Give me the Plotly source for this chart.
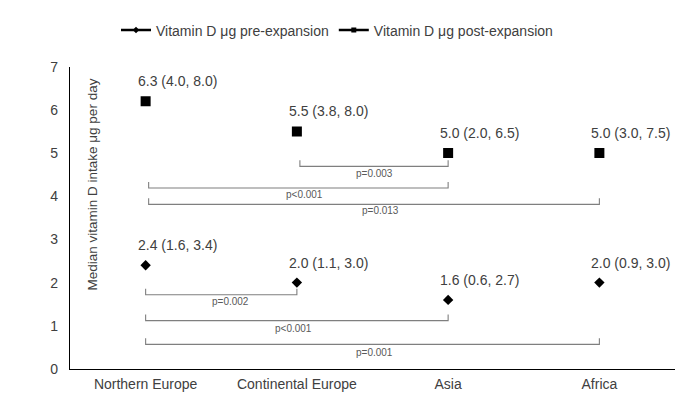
import plotly.graph_objects as go

categories = ["Northern Europe", "Continental Europe", "Asia", "Africa"]
pre_values = [2.4, 2.0, 1.6, 2.0]
post_values = [6.2, 5.5, 5.0, 5.0]
pre_labels = ["2.4 (1.6, 3.4)", "2.0 (1.1, 3.0)", "1.6 (0.6, 2.7)", "2.0 (0.9, 3.0)"]
post_labels = ["6.3 (4.0, 8.0)", "5.5 (3.8, 8.0)", "5.0 (2.0, 6.5)", "5.0 (3.0, 7.5)"]

# significance brackets: from category index, to category index, height, p text, label pos
br_from = [1, 0, 0, 0, 0, 0]
br_to = [2, 2, 3, 1, 2, 3]
br_y = [4.69, 4.19, 3.81, 1.72, 1.12, 0.57]
br_p = ["p=0.003", "p<0.001", "p=0.013", "p=0.002", "p<0.001", "p=0.001"]
br_label_x = [1.51, 1.05, 1.55, 0.56, 0.98, 1.51]
br_label_y = [4.52, 4.05, 3.66, 1.57, 0.94, 0.39]

FONT = "Liberation Sans, Arial, sans-serif"
TXT = "#404040"
idx = list(range(len(categories)))

fig = go.Figure()
# data markers
fig.add_trace(go.Scatter(
    x=idx, y=pre_values, mode="markers", showlegend=False,
    marker=dict(symbol="diamond", size=8, color="black")))
fig.add_trace(go.Scatter(
    x=idx, y=post_values, mode="markers", showlegend=False,
    marker=dict(symbol="square", size=10, color="black")))
# legend entries (line + marker symbol, as in the reference)
fig.add_trace(go.Scatter(
    x=[None], y=[None], mode="lines+markers", name="Vitamin D μg pre-expansion",
    marker=dict(symbol="diamond", size=5, color="black"),
    line=dict(color="black", width=2.5)))
fig.add_trace(go.Scatter(
    x=[None], y=[None], mode="lines+markers", name="Vitamin D μg post-expansion",
    marker=dict(symbol="square", size=5, color="black"),
    line=dict(color="black", width=2.5)))

tick_h = 0.14
for f, t, yv in zip(br_from, br_to, br_y):
    x0 = f + (0.02 if yv > 3 else 0.0)
    fig.add_trace(go.Scatter(
        x=[x0, x0, t, t], y=[yv + tick_h, yv, yv, yv + tick_h], mode="lines",
        line=dict(color="#7f7f7f", width=1.1), showlegend=False, hoverinfo="skip"))

annotations = []
for xl, yl, p in zip(br_label_x, br_label_y, br_p):
    annotations.append(dict(x=xl, y=yl, xref="x", yref="y", text=p, showarrow=False,
                            font=dict(family=FONT, size=10, color="#595959")))
for vals, labs in ((pre_values, pre_labels), (post_values, post_labels)):
    for i, (v, lab) in enumerate(zip(vals, labs)):
        annotations.append(dict(x=i, y=v, xref="x", yref="y", text=lab, showarrow=False,
                                xanchor="left", yanchor="middle", xshift=-10, yshift=20,
                                font=dict(family=FONT, size=14, color=TXT)))
annotations.append(dict(x=25.5 / 685, y=1 - 155 / 396, xref="paper", yref="paper",
                        xanchor="center", yanchor="middle",
                        text="Median vitamin D intake μg per day", textangle=-90,
                        showarrow=False, font=dict(family=FONT, size=13.5, color=TXT)))

fig.update_layout(
    width=685, height=396,
    margin=dict(l=62, r=18, t=55, b=34),
    paper_bgcolor="white", plot_bgcolor="white",
    font=dict(family=FONT, size=14, color=TXT),
    showlegend=True,
    legend=dict(orientation="h", xref="container", yref="container",
                x=108 / 685, y=1 - 22.5 / 396, xanchor="left", yanchor="middle",
                font=dict(family=FONT, size=14, color=TXT), itemwidth=30,
                tracegroupgap=0),
    annotations=annotations,
)
fig.update_xaxes(range=[-0.5, 3.5], tickvals=idx, ticktext=categories,
                 showline=True, linecolor="black", linewidth=1.3, showgrid=False,
                 zeroline=False, ticks="", ticklabelstandoff=2,
                 tickfont=dict(family=FONT, size=14, color=TXT))
fig.update_yaxes(range=[0, 7], dtick=1, showline=True, linecolor="black", linewidth=1.3,
                 showgrid=False, zeroline=False, ticks="", ticklabelstandoff=8,
                 tickfont=dict(family=FONT, size=14, color=TXT))

fig.write_html("out.html")
